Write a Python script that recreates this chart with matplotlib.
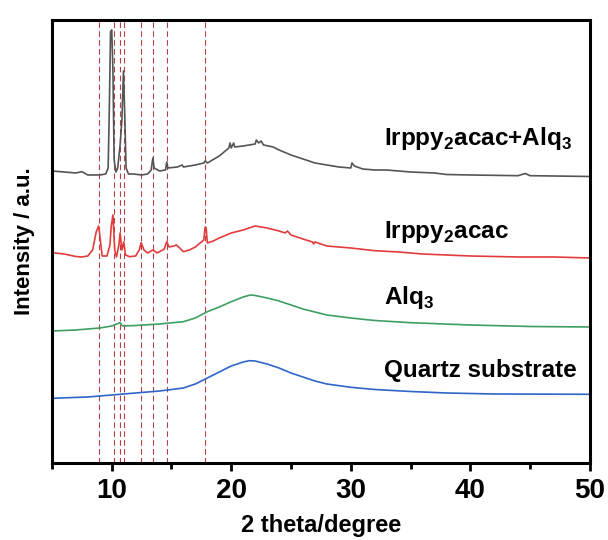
import matplotlib

matplotlib.use("Agg")
import matplotlib.pyplot as plt
from matplotlib.ticker import MultipleLocator

plt.rcParams["font.family"] = ["Liberation Sans", "DejaVu Sans"]
plt.rcParams["mathtext.fontset"] = "custom"
plt.rcParams["mathtext.rm"] = "Liberation Sans"
plt.rcParams["mathtext.bf"] = "Liberation Sans:bold"

# ---- data (2 theta in degree, intensity in a.u., curves already offset) ----
MIX_X = [5.0, 6.0, 7.0, 7.5, 8.0, 9.0, 9.5, 9.7, 9.8, 9.9, 10.0, 10.1, 10.2,
         10.35, 10.5, 10.7, 10.85, 10.98, 11.1, 11.2, 11.4, 11.8, 12.5, 13.0,
         13.3, 13.44, 13.55, 14.0, 14.5, 14.6, 14.7, 15.5, 15.9, 16.0, 17.0,
         17.7, 17.82, 18.0, 19.0, 19.8, 19.9, 20.0, 20.2, 20.3, 21.0, 22.0,
         22.1, 22.3, 22.5, 22.7, 23.5, 24.0, 25.0, 26.0, 27.0, 28.0, 29.0,
         30.0, 30.1, 30.3, 31.0, 32.0, 33.0, 34.0, 35.0, 37.0, 38.0, 40.0,
         44.0, 44.6, 45.0, 50.0]
MIX_Y = [292, 291, 290, 291.3, 288, 288, 289, 295, 355, 431, 433, 393, 303,
         291, 295, 318, 343, 392, 343, 295, 289, 289, 288, 289,
         293, 305, 295, 292, 293, 301, 295, 296, 298, 296, 298,
         300, 302, 300, 307, 315, 320, 315, 320, 316, 317, 319,
         323, 320, 322, 318, 316, 313, 308, 304, 300, 298, 296,
         295, 300, 297, 294, 293, 293, 292, 291, 290, 288.5, 288,
         287.3, 289.5, 287.3, 286.5]

IR_X = [5.0, 6.0, 7.0, 7.5, 8.0, 8.4, 8.7, 8.9, 9.0, 9.2, 9.6, 9.85, 9.95,
        10.1, 10.25, 10.4, 10.6, 10.7, 10.85, 11.0, 11.15, 11.5, 12.0, 12.3,
        12.46, 12.7, 13.0, 13.44, 13.8, 14.4, 14.6, 14.8, 15.2, 15.4, 15.6,
        16.0, 16.5, 17.0, 17.5, 17.7, 17.82, 17.9, 18.0, 18.5, 19.0, 20.0,
        21.0, 22.0, 22.5, 23.0, 24.0, 24.5, 24.7, 25.0, 26.0, 26.8, 26.9,
        27.0, 28.0, 29.0, 30.0, 32.0, 34.0, 36.0, 38.0, 40.0, 44.0, 47.0,
        50.0]
IR_Y = [210.3, 209, 206.5, 206, 207, 213, 231, 237, 228, 207, 207, 218, 236,
        248, 213, 206, 218, 230, 213, 221, 208, 206.3, 207, 213,
        220.3, 213, 210, 213, 210, 214, 221.3, 216, 217, 218, 216,
        211.3, 213, 216, 221, 223, 236, 235, 220, 222, 225, 230,
        233, 237, 236, 235, 232, 230, 232, 228, 224, 221, 219,
        221, 217, 216, 215, 212.3, 211, 209, 208, 207, 206, 206,
        205]

ALQ_X = [5.0, 7.0, 9.0, 10.0, 10.7, 10.9, 12.0, 14.0, 16.0, 17.0, 18.0, 19.0,
         20.0, 21.0, 21.6, 22.0, 23.0, 24.0, 25.0, 26.0, 27.0, 28.0, 30.0,
         32.0, 35.0, 40.0, 45.0, 50.0]
ALQ_Y = [132, 133, 135, 137, 140.3, 137, 137.5, 139, 141.3, 145, 151.3, 156,
         161.3, 166, 168, 167.5, 165, 162, 158, 154, 151, 148, 145,
         142.5, 140.3, 138, 136.5, 136]

QZ_X = [5.0, 8.0, 10.0, 12.0, 14.0, 16.0, 17.0, 18.0, 19.0, 20.0, 21.0, 21.5,
        22.0, 23.0, 24.0, 25.0, 26.0, 27.0, 28.0, 30.0, 32.0, 35.0, 38.0,
        42.0, 50.0]
QZ_Y = [64.7, 66, 68, 70, 72, 75, 79, 85, 91, 97, 101, 102.3,
        102, 99, 95, 90, 86, 82, 79, 75.7, 73.5, 71.5, 70,
        69, 68.7]

PEAKS = [8.94, 10.2, 10.72, 11.03, 12.46, 13.44, 14.61, 17.82]

LABELS = [r"Irppy$_\mathbf{2}$acac+Alq$_\mathbf{3}$",
          r"Irppy$_\mathbf{2}$acac",
          r"Alq$_\mathbf{3}$",
          "Quartz substrate"]
LABEL_Y = [318, 225, 159, 86]

COLORS = ["#555555", "#e23c3c", "#3f9f62", "#2f66c8"]
DASH = "#b34045"

fig = plt.figure(figsize=(6.08, 5.40), dpi=100)
ax = fig.add_axes([0.0855, 0.1426, 0.8845, 0.8204])

for p in PEAKS:
    ax.axvline(p, color=DASH, lw=0.8, dashes=(5, 3), zorder=1)

series = [(MIX_X, MIX_Y), (IR_X, IR_Y), (ALQ_X, ALQ_Y), (QZ_X, QZ_Y)]
for (xs, ys), c in zip(series, COLORS):
    ax.plot(xs, ys, color=c, lw=1.2, zorder=2)

for lab, y in zip(LABELS, LABEL_Y):
    ax.text(32.75, y, lab, fontsize=17.5, fontweight="bold", va="baseline",
            ha="left", color="black")

ax.set_xlim(5, 50)
ax.set_ylim(0, 443)
ax.xaxis.set_major_locator(MultipleLocator(10))
ax.xaxis.set_minor_locator(MultipleLocator(5))
ax.set_yticks([])
ax.tick_params(axis="x", which="major", direction="out", length=6, width=2,
               labelsize=20, pad=5)
ax.tick_params(axis="x", which="minor", direction="out", length=4, width=2)
for lbl in ax.get_xticklabels():
    lbl.set_fontweight("bold")
for spine in ax.spines.values():
    spine.set_linewidth(2.2)

ax.set_xlabel("2 theta/degree", fontsize=17, fontweight="bold", labelpad=7)
ax.set_ylabel("Intensity / a.u.", fontsize=16, fontweight="bold", labelpad=12)

fig.savefig("out.png", dpi=100)
